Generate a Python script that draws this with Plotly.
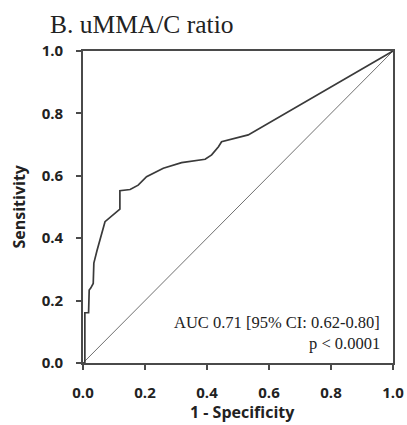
import plotly.graph_objects as go

# ROC curve points (1 - specificity, sensitivity)
fpr = [0.0, 0.006, 0.006, 0.018, 0.02, 0.025, 0.033, 0.035, 0.045, 0.071, 0.119, 0.119,
       0.152, 0.178, 0.205, 0.259, 0.318, 0.394, 0.415, 0.437, 0.447, 0.47, 0.501, 0.533, 1.0]
tpr = [0.0, 0.0, 0.161, 0.161, 0.234, 0.24, 0.255, 0.32, 0.36, 0.453, 0.493, 0.552,
       0.556, 0.57, 0.597, 0.624, 0.642, 0.653, 0.667, 0.693, 0.709, 0.715, 0.725, 0.731, 1.0]
ref_x = [0.0, 1.0]
ref_y = [0.0, 1.0]
tick_vals = [0.0, 0.2, 0.4, 0.6, 0.8, 1.0]
tick_text = ["0.0", "0.2", "0.4", "0.6", "0.8", "1.0"]

fig = go.Figure()
fig.add_trace(go.Scatter(x=ref_x, y=ref_y, mode="lines",
                         line=dict(color="#707070", width=1), showlegend=False))
fig.add_trace(go.Scatter(x=fpr, y=tpr, mode="lines",
                         line=dict(color="#3a3a3a", width=1.7), showlegend=False))

axis_common = dict(range=[0, 1], tickvals=tick_vals, ticktext=tick_text, automargin=False,
                   showgrid=False, zeroline=False, showline=True, linecolor="#4a4a4a",
                   linewidth=1.6, mirror=True, ticks="outside", ticklen=5, tickwidth=1.6,
                   tickcolor="#4a4a4a",
                   tickfont=dict(family="Open Sans", size=15, color="#222", weight=700))
fig.update_xaxes(**axis_common, ticklabelstandoff=10)
fig.update_yaxes(**axis_common, ticklabelstandoff=10)

fig.add_annotation(x=0.965, y=0.131, xref="paper", yref="paper", xanchor="right", yanchor="middle",
                   text="AUC 0.71 [95% CI: 0.62-0.80]", showarrow=False,
                   font=dict(family="Liberation Serif", size=16.5, color="#222"))
fig.add_annotation(x=0.965, y=0.061, xref="paper", yref="paper", xanchor="right", yanchor="middle",
                   text="p < 0.0001", showarrow=False,
                   font=dict(family="Liberation Serif", size=16.5, color="#222"))
fig.add_annotation(x=-0.208, y=0.5, xref="paper", yref="paper", xanchor="center", yanchor="middle",
                   text="Sensitivity", textangle=-90, showarrow=False,
                   font=dict(family="Open Sans", size=16, color="#222", weight=700))
fig.add_annotation(x=0.516, y=-0.158, xref="paper", yref="paper", xanchor="center", yanchor="middle",
                   text="1 - Specificity", showarrow=False,
                   font=dict(family="Open Sans", size=16, color="#222", weight=700))

fig.update_layout(
    width=407, height=425, autosize=False,
    margin=dict(l=83, r=14, t=51, b=62),
    paper_bgcolor="white", plot_bgcolor="white",
    title=dict(text="B. uMMA/C ratio", x=50/407, xanchor="left", y=1 - 24/425, yanchor="middle",
               font=dict(family="Liberation Serif", size=25.5, color="#222")),
)

fig.write_html("out.html")
